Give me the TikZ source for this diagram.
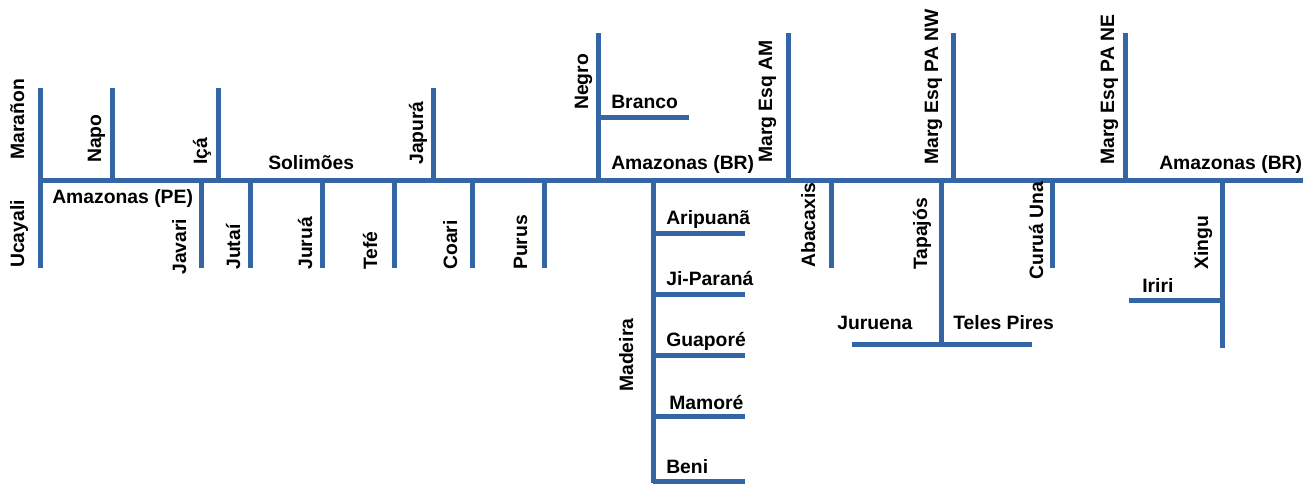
\documentclass[tikz,border=0pt]{standalone}
\usepackage{fontspec}
\setmainfont{Liberation Sans}
\usetikzlibrary{positioning}
\definecolor{riverblue}{RGB}{52,101,164}
\tikzset{
  river/.style={draw=riverblue, line width=3.75pt},
  riverlbl/.style={font=\bfseries\fontsize{14.5}{17}\selectfont, inner sep=0pt},
  flatlbl/.style={riverlbl, anchor=base west},
  uplbl/.style={riverlbl, rotate=90, anchor=base west}
}
\begin{document}
\begin{tikzpicture}[x=0.75pt, y=-0.75pt]
\useasboundingbox (0,0) rectangle (1303,483);
% Main stem
\draw[river] (37.5,180) -- (1303,180);
% Headwaters
\draw[river] (40,88) -- (40,268);
\node[uplbl] (maranon) at (24,160) {Marañon};
\node[uplbl] (ucayali) at (24,268) {Ucayali};
\node[flatlbl] (amazpe) at (52,203) {Amazonas (PE)};
% Left bank, upper course
\draw[river] (112,88) -- (112,180);
\node[uplbl] (napo) at (101,163) {Napo};
\draw[river] (218,88) -- (218,180);
\node[uplbl] (ica) at (207,165) {Içá};
\draw[river] (433,88) -- (433,180);
\node[uplbl] (japura) at (423,165) {Japurá};
% Right bank, upper course
\draw[river] (201,180) -- (201,268);
\node[uplbl] (javari) at (186,275) {Javari};
\draw[river] (250,180) -- (250,268);
\node[uplbl] (jutai) at (240,270) {Jutaí};
\draw[river] (322,180) -- (322,268);
\node[uplbl] (jurua) at (312,270) {Juruá};
\draw[river] (394,180) -- (394,268);
\node[uplbl] (tefe) at (377,270) {Tefé};
\draw[river] (472,180) -- (472,268);
\node[uplbl] (coari) at (457,270) {Coari};
\draw[river] (544,180) -- (544,268);
\node[uplbl] (purus) at (527,270) {Purus};
\node[flatlbl] (solimoes) at (268,169) {Solimões};
% Negro and Branco
\draw[river] (598,33) -- (598,180);
\node[uplbl] (negro) at (588,110) {Negro};
\draw[river] (598,117) -- (689,117);
\node[flatlbl] (branco) at (611,108) {Branco};
\node[flatlbl] (amazbr) at (611,169) {Amazonas (BR)};
% Madeira basin
\draw[river] (653,180) -- (653,483);
\node[uplbl] (madeira) at (633,392) {Madeira};
\draw[river] (653,233) -- (745,233);
\node[flatlbl] (aripuana) at (666,224) {Aripuanã};
\draw[river] (653,294) -- (745,294);
\node[flatlbl] (jiparana) at (666,285) {Ji-Paraná};
\draw[river] (653,355) -- (745,355);
\node[flatlbl] (guapore) at (666,346) {Guaporé};
\draw[river] (653,416) -- (745,416);
\node[flatlbl] (mamore) at (669,409) {Mamoré};
\draw[river] (653,481) -- (745,481);
\node[flatlbl] (beni) at (666,473) {Beni};
% Left bank, lower course
\draw[river] (788,33) -- (788,180);
\node[uplbl] (margam) at (772,163) {Marg Esq AM};
\draw[river] (953,33) -- (953,180);
\node[uplbl] (margnw) at (938,165) {Marg Esq PA NW};
\draw[river] (1125,33) -- (1125,180);
\node[uplbl] (margne) at (1114,165) {Marg Esq PA NE};
% Right bank, lower course
\draw[river] (831,180) -- (831,268);
\node[uplbl] (abacaxis) at (815,268) {Abacaxis};
\draw[river] (1052,180) -- (1052,268);
\node[uplbl] (curuauna) at (1043,280) {Curuá Una};
% Tapajos basin
\draw[river] (941,180) -- (941,347);
\node[uplbl] (tapajos) at (927,270) {Tapajós};
\draw[river] (852,344) -- (1032,344);
\node[flatlbl] (juruena) at (837,329) {Juruena};
\node[flatlbl] (telespires) at (953,329) {Teles Pires};
% Xingu basin
\draw[river] (1222,180) -- (1222,348);
\node[uplbl] (xingu) at (1208,270) {Xingu};
\draw[river] (1129,300) -- (1222,300);
\node[flatlbl] (iriri) at (1142,292) {Iriri};
\node[flatlbl] (amazbr2) at (1159,169) {Amazonas (BR)};
\end{tikzpicture}
\end{document}
